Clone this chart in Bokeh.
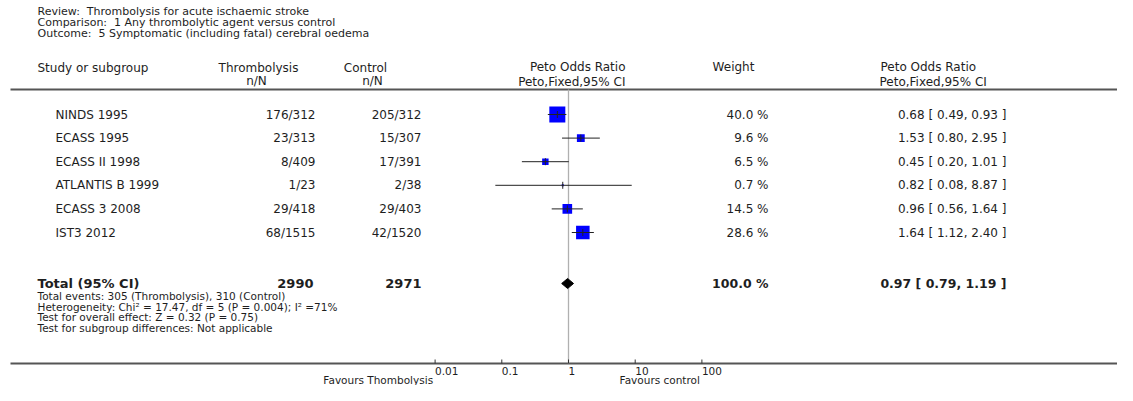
import math
from bokeh.plotting import figure
from bokeh.models import Range1d, LogScale
from bokeh.core.properties import value
from bokeh.embed import file_html
from bokeh.resources import INLINE

# ---------------- data ----------------
title_lines = [
    "Review:\u00a0 Thrombolysis for acute ischaemic stroke",
    "Comparison:\u00a0 1 Any thrombolytic agent versus control",
    "Outcome:\u00a0 5 Symptomatic (including fatal) cerebral oedema",
]
studies = ["NINDS 1995", "ECASS 1995", "ECASS II 1998", "ATLANTIS B 1999", "ECASS 3 2008", "IST3 2012"]
treat_events = [176, 23, 8, 1, 29, 68]
treat_total = [312, 313, 409, 23, 418, 1515]
ctrl_events = [205, 15, 17, 2, 29, 42]
ctrl_total = [312, 307, 391, 38, 403, 1520]
weights = [40.0, 9.6, 6.5, 0.7, 14.5, 28.6]
odds = [0.68, 1.53, 0.45, 0.82, 0.96, 1.64]
ci_low = [0.49, 0.80, 0.20, 0.08, 0.56, 1.12]
ci_high = [0.93, 2.95, 1.01, 8.87, 1.64, 2.40]

total_treat = 2990
total_ctrl = 2971
total_weight = 100.0
total_or = 0.97
total_low = 0.79
total_high = 1.19

footnotes = [
    "Total events: 305 (Thrombolysis), 310 (Control)",
    "Heterogeneity: Chi\u00b2 = 17.47, df = 5 (P = 0.004); I\u00b2 =71%",
    "Test for overall effect: Z = 0.32 (P = 0.75)",
    "Test for subgroup differences: Not applicable",
]
tick_values = [0.01, 0.1, 1, 10, 100]
tick_labels = ["0.01", "0.1", "1", "10", "100"]
favours_left = "Favours Thombolysis"
favours_right = "Favours control"

# ---------------- layout ----------------
W, H = 1117, 385
ONE_X = 568
DECADE = 66.7

p = figure(width=W, height=H, output_backend="svg", toolbar_location=None,
           x_range=Range1d(0, W), y_range=Range1d(H, 0),
           x_axis_type=None, y_axis_type=None, min_border=0)
p.outline_line_color = None
p.grid.visible = False
p.background_fill_color = "white"
p.border_fill_color = "white"

p.extra_x_ranges = {"log": Range1d(10 ** ((0 - ONE_X) / DECADE), 10 ** ((W - ONE_X) / DECADE))}
p.extra_x_scales = {"log": LogScale()}

FONT = value("DejaVu Sans")
TXT = "#1e1e1e"
FS = "12px"

def txt(xs, ys, texts, align="left", size=FS, style="normal", x_range_name="default", x_offset=0):
    p.text(x=xs, y=ys, text=texts, text_font=FONT, text_font_size=size,
           text_align=align, text_baseline="middle", text_color=TXT,
           text_font_style=style, x_range_name=x_range_name, x_offset=x_offset)

# titles
txt([37] * 3, [11, 22, 33], title_lines, size="11px")

# headers
txt([37], [67], ["Study or subgroup"])
txt([258, 256], [67, 80], ["Thrombolysis", "n/N"], align="center")
txt([365, 372], [67, 80], ["Control", "n/N"], align="center")
txt([625, 625], [66, 81], ["Peto Odds Ratio", "Peto,Fixed,95% CI"], align="right")
txt([733], [66], ["Weight"], align="center")
txt([880, 879], [66, 81], ["Peto Odds Ratio", "Peto,Fixed,95% CI"], align="left")

# horizontal rules
AY = 363
p.segment(x0=[10, 10], x1=[W, W], y0=[89, AY], y1=[89, AY],
          line_color="#555555", line_width=2)

# line of no effect
p.segment(x0=[1], x1=[1], y0=[89], y1=[AY], line_color="#b0b0b0",
          line_width=1.3, x_range_name="log")

# rows
ROW0 = 114
STEP = 23.6
ys = [ROW0 + i * STEP for i in range(len(studies))]

txt([55] * len(studies), ys, studies)
txt([315] * len(studies), ys, [f"{a}/{b}" for a, b in zip(treat_events, treat_total)], align="right")
txt([421] * len(studies), ys, [f"{a}/{b}" for a, b in zip(ctrl_events, ctrl_total)], align="right")
txt([768] * len(studies), ys, [f"{w:.1f} %" for w in weights], align="right")
txt([1006] * len(studies), ys,
    [f"{o:.2f} [ {l:.2f}, {h:.2f} ]" for o, l, h in zip(odds, ci_low, ci_high)], align="right")

# boxes (area proportional to weight)
sizes = [16.0 * math.sqrt(w / max(weights)) for w in weights]
p.scatter(x=odds, y=ys, size=sizes, marker="square", fill_color="#0000ff",
          line_color=None, x_range_name="log")
p.segment(x0=ci_low, x1=ci_high, y0=ys, y1=ys, line_color="#222222", line_width=1,
          x_range_name="log")
p.segment(x0=odds, x1=odds, y0=[y - 3.5 for y in ys], y1=[y + 3.5 for y in ys],
          line_color="#222222", line_width=1, x_range_name="log")

# total row
TY = 283
txt([37], [TY], ["Total (95% CI)"], size="13px", style="bold")
txt([313], [TY], [str(total_treat)], align="right", size="13px", style="bold")
txt([421], [TY], [str(total_ctrl)], align="right", size="13px", style="bold")
txt([768], [TY], [f"{total_weight:.1f} %"], align="right", size="12.5px", style="bold")
txt([1006], [TY], [f"{total_or:.2f} [ {total_low:.2f}, {total_high:.2f} ]"],
    align="right", size="12.5px", style="bold")
p.patch(x=[total_low, total_or, total_high, total_or], y=[TY, TY - 5, TY, TY + 5],
        fill_color="#000000", line_color="#000000", x_range_name="log")

# footnotes
txt([37] * len(footnotes), [295.5, 306, 316.5, 327], footnotes, size="10.5px")

# axis ticks and labels
p.segment(x0=tick_values, x1=tick_values, y0=[AY] * 5, y1=[AY - 4] * 5,
          line_color="#333333", line_width=1, x_range_name="log")
txt(tick_values, [370.5] * 5, tick_labels, size="10.5px", x_range_name="log")
txt([tick_values[0]], [379.5], [favours_left], align="right", size="10.5px",
    x_range_name="log", x_offset=-2)
txt([tick_values[-1]], [379.5], [favours_right], align="right", size="10.5px",
    x_range_name="log", x_offset=-2)

open("out.html", "w").write(file_html(p, INLINE))
